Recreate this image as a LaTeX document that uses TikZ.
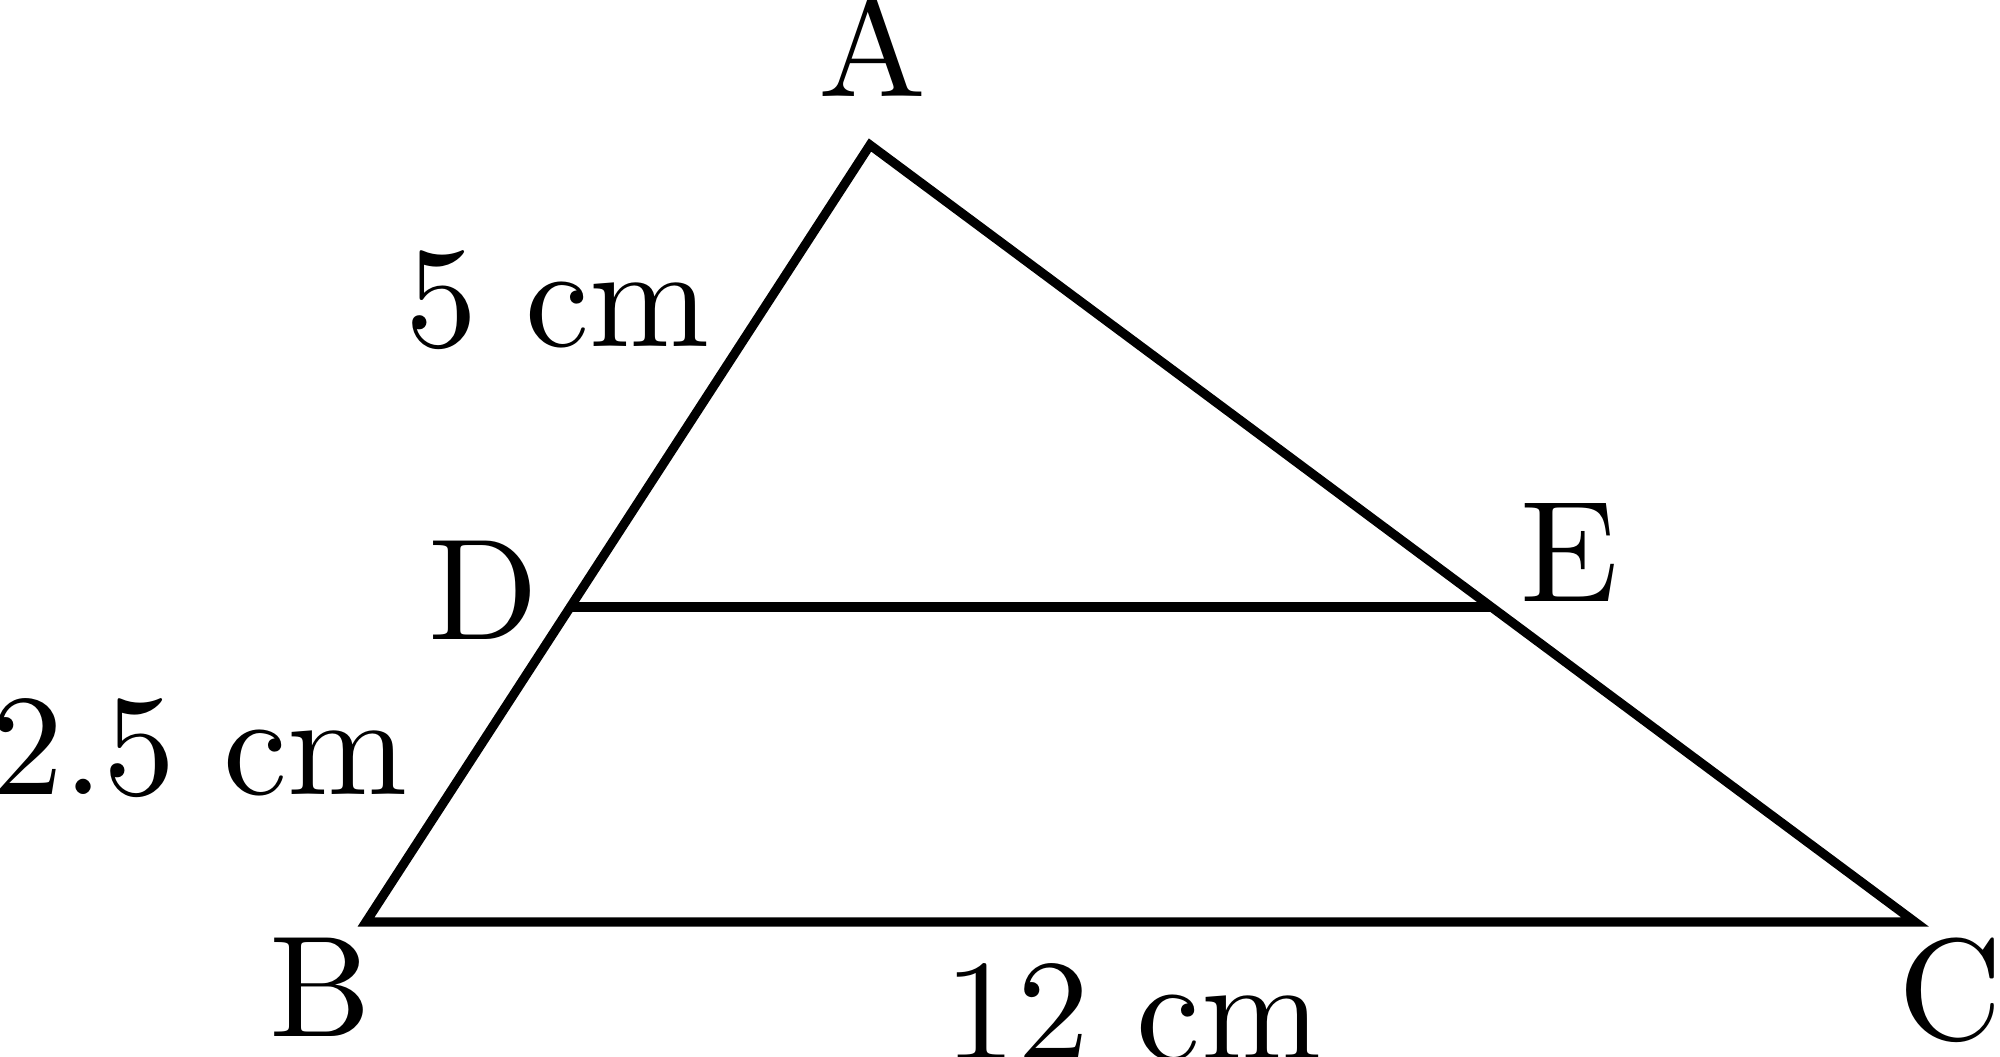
\documentclass[tikz,border=0pt]{standalone}
\usepackage{fontspec}
\setmainfont{lmroman10-regular.otf}
\begin{document}
\begin{tikzpicture}[line width=2.6pt, line join=miter, lbl/.style={font=\fontsize{41}{48}\selectfont, inner sep=0pt}]
	\useasboundingbox (0,0) rectangle (20,10.57);
	\coordinate (A) at (8.70,9.12);
	\coordinate (B) at (3.66,1.35);
	\coordinate (C) at (19.15,1.35);
	\coordinate (D) at (5.70,4.50);
	\coordinate (E) at (14.91,4.50);
	\draw[black] (A) -- (B) -- (C) -- cycle;
	\draw[black] (D) -- (E);
	\node[lbl, anchor=base] (lA) at (8.73,9.60) {A};
	\node[lbl, anchor=base] (lB) at (3.21,0.20) {B};
	\node[lbl, anchor=base] (lC) at (19.51,0.17) {C};
	\node[lbl, anchor=base] (lD) at (4.84,4.17) {D};
	\node[lbl, anchor=base] (lE) at (15.70,4.55) {E};
	\node[lbl, anchor=base] (lAD) at (5.58,7.10) {5 cm};
	\node[lbl, anchor=base east] (lDB) at (4.12,2.62) {2.5 cm};
	\node[lbl, anchor=base] (lBC) at (11.33,-0.03) {12 cm};
\end{tikzpicture}
\end{document}
